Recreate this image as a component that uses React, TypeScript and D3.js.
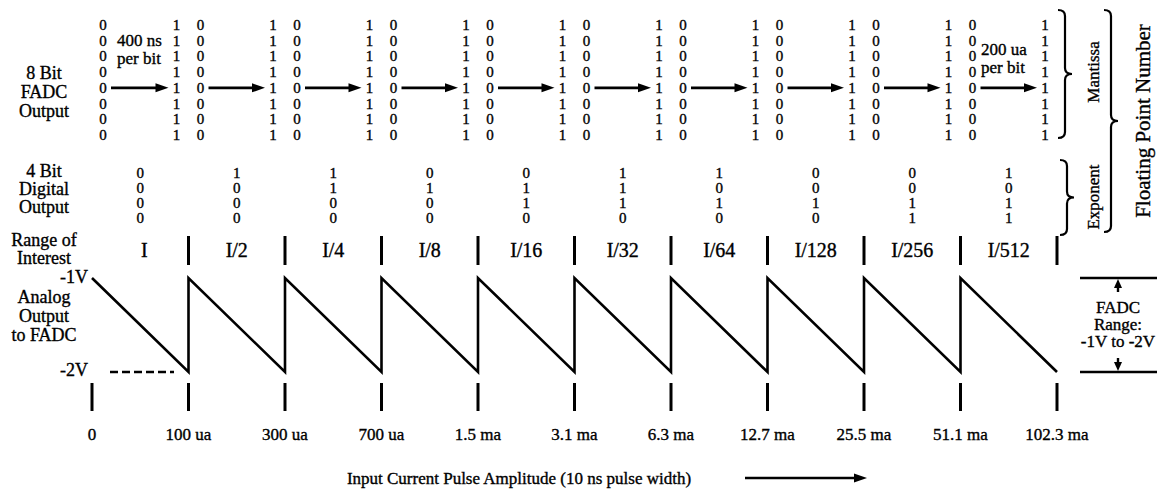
import React from "react";
import * as d3 from "d3";

// labels under the sawtooth, one per range boundary
const currentLabels = ["0", "100 ua", "300 ua", "700 ua", "1.5 ma", "3.1 ma", "6.3 ma", "12.7 ma", "25.5 ma", "51.1 ma", "102.3 ma"];
const rangeLabels = ["I", "I/2", "I/4", "I/8", "I/16", "I/32", "I/64", "I/128", "I/256", "I/512"];
const exponentCodes = ["0000", "1000", "1100", "0100", "0110", "1110", "1010", "0010", "0011", "1011"];
const mantissaLow = "00000000";
const mantissaHigh = "11111111";
const voltTop = -1;
const voltBottom = -2;
const voltLabels = ["-1V", "-2V"];

const FONT = "'Liberation Serif', 'Times New Roman', serif";

const bracePath = (x, y0, y1, w) => {
  const ym = (y0 + y1) / 2;
  const xm = x + w / 2;
  const r = 6;
  return `M${x},${y0} Q${xm},${y0} ${xm},${y0 + r} L${xm},${ym - r} Q${xm},${ym} ${x + w},${ym} Q${xm},${ym} ${xm},${ym + r} L${xm},${y1 - r} Q${xm},${y1} ${x},${y1}`;
};

const HArrow = ({ x1, x2, y }) => (
  <g>
    <line x1={x1} x2={x2 - 10} y1={y} y2={y} stroke="#000" strokeWidth={2.6} />
    <polygon points={`${x2},${y} ${x2 - 13},${y - 4.5} ${x2 - 13},${y + 4.5}`} fill="#000" />
  </g>
);

const T = ({ x, y, size, anchor = "middle", children, ...rest }) => (
  <text x={x} y={y} fontSize={size} textAnchor={anchor} dominantBaseline="central"
    fontFamily={FONT} fill="#000" stroke="#000" strokeWidth={0.35} {...rest}>
    {children}
  </text>
);

export default function App() {
  const n = rangeLabels.length;
  const x = d3.scaleLinear().domain([0, n]).range([92, 1057]);
  const v = d3.scaleLinear().domain([voltTop, voltBottom]).range([278, 372]);
  const bitY = d3.scaleLinear().domain([0, 7]).range([25, 135]);
  const expY = d3.scaleLinear().domain([0, 3]).range([173, 218]);

  const sawPts = [];
  rangeLabels.forEach((_, i) => {
    sawPts.push([i, voltTop]);
    sawPts.push([i + 1, voltBottom]);
  });
  const saw = d3.line().x(d => x(d[0])).y(d => v(d[1]))(sawPts);

  const mid = i => (x(i) + x(i + 1)) / 2;
  const arrowRow = bitY(4);

  // columns of the 8 bit output: [xpos, bits]
  const cols = [[x(0) + 11, mantissaLow]];
  d3.range(1, n + 1).forEach(k => {
    cols.push([x(k) - 12, mantissaHigh]);
    if (k < n) cols.push([x(k) + 12, mantissaLow]);
  });

  return (
    <svg width={1164} height={489} style={{ position: "absolute", left: 0, top: 0, background: "#fff" }}>
      {/* left row titles */}
      {[["8 Bit", 73], ["FADC", 92], ["Output", 111], ["4 Bit", 171], ["Digital", 189], ["Output", 207],
        ["Range of", 240], ["Interest", 258], ["Analog", 297], ["Output", 316], ["to FADC", 335]].map(([s, y], i) => (
        <T key={i} x={44} y={y} size={18}>{s}</T>
      ))}

      {/* 8 bit FADC columns */}
      {cols.map(([cx, bits], i) => (
        <g key={i}>
          {bits.split("").map((b, j) => (
            <T key={j} x={cx} y={bitY(j)} size={15}>{b}</T>
          ))}
        </g>
      ))}
      {d3.range(n).map(i => (
        <HArrow key={i} x1={(i === 0 ? x(0) + 11 : x(i) + 12) + 8} x2={x(i + 1) - 20} y={arrowRow} />
      ))}
      <T x={117} y={40} size={17} anchor="start">400 ns</T>
      <T x={117} y={58} size={17} anchor="start">per bit</T>
      <T x={981} y={49} size={17} anchor="start">200 ua</T>
      <T x={981} y={67} size={17} anchor="start">per bit</T>

      {/* 4 bit exponent */}
      {exponentCodes.map((code, i) => (
        <g key={i}>
          {code.split("").map((b, j) => (
            <T key={j} x={mid(i)} y={expY(j)} size={15}>{b}</T>
          ))}
        </g>
      ))}

      {/* range of interest */}
      {rangeLabels.map((s, i) => (
        <T key={i} x={mid(i) + (i === 0 ? 4 : 0)} y={250} size={20}>{s}</T>
      ))}
      {d3.range(1, n + 1).map(k => (
        <line key={k} x1={x(k)} x2={x(k)} y1={236} y2={265} stroke="#000" strokeWidth={3} />
      ))}

      {/* analog sawtooth */}
      <path d={saw} fill="none" stroke="#000" strokeWidth={2.6} strokeLinejoin="miter" />
      <T x={88} y={v(voltTop) - 1} size={18} anchor="end">{voltLabels[0]}</T>
      <T x={88} y={v(voltBottom) - 2} size={18} anchor="end">{voltLabels[1]}</T>
      <line x1={110} x2={174} y1={v(voltBottom)} y2={v(voltBottom)} stroke="#000" strokeWidth={2.4} strokeDasharray="8 4" />

      {/* current ticks */}
      {currentLabels.map((s, k) => (
        <g key={k}>
          <line x1={x(k)} x2={x(k)} y1={383} y2={411} stroke="#000" strokeWidth={3} />
          <T x={x(k)} y={434} size={17}>{s}</T>
        </g>
      ))}
      <T x={519} y={478} size={17}>Input Current Pulse Amplitude (10 ns pulse width)</T>
      <HArrow x1={745} x2={867} y={478} />

      {/* FADC range box */}
      <line x1={1080} x2={1157} y1={v(voltTop)} y2={v(voltTop)} stroke="#000" strokeWidth={2.4} />
      <line x1={1080} x2={1157} y1={v(voltBottom)} y2={v(voltBottom)} stroke="#000" strokeWidth={2.4} />
      <polygon points={`1118,${v(voltTop) + 1} 1114,${v(voltTop) + 10} 1122,${v(voltTop) + 10}`} fill="#000" />
      <line x1={1118} x2={1118} y1={v(voltTop) + 8} y2={v(voltTop) + 14} stroke="#000" strokeWidth={2.4} />
      <polygon points={`1118,${v(voltBottom) - 1} 1114,${v(voltBottom) - 10} 1122,${v(voltBottom) - 10}`} fill="#000" />
      <line x1={1118} x2={1118} y1={v(voltBottom) - 8} y2={v(voltBottom) - 14} stroke="#000" strokeWidth={2.4} />
      <T x={1118} y={307} size={17}>FADC</T>
      <T x={1118} y={324} size={17}>Range:</T>
      <T x={1118} y={341} size={17}>-1V to -2V</T>

      {/* braces on the right */}
      <path d={bracePath(1058, 10, 138, 14)} fill="none" stroke="#000" strokeWidth={2.2} />
      <path d={bracePath(1060, 160, 235, 14)} fill="none" stroke="#000" strokeWidth={2.2} />
      <path d={bracePath(1104, 10, 232, 14)} fill="none" stroke="#000" strokeWidth={2.2} />
      <T x={0} y={0} size={17} transform="translate(1093,72) rotate(-90)">Mantissa</T>
      <T x={0} y={0} size={17} transform="translate(1093,197) rotate(-90)">Exponent</T>
      <T x={0} y={0} size={21} transform="translate(1143,121) rotate(-90)">Floating Point Number</T>
    </svg>
  );
}
